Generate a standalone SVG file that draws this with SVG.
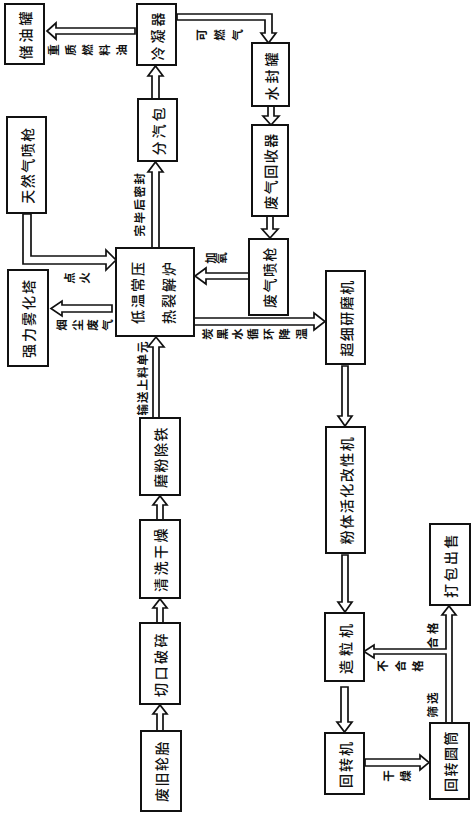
<svg xmlns="http://www.w3.org/2000/svg" width="474" height="815" viewBox="0 0 474 815">
<style>
.bx{fill:#fff;stroke:#111;stroke-width:2}
.bt{font-family:"Noto Sans CJK SC","Noto Sans CJK JP",sans-serif;font-size:14px;font-weight:500;fill:#111;text-anchor:middle;dominant-baseline:central;letter-spacing:1.5px}
.lb{font-family:"Noto Sans CJK SC","Noto Sans CJK JP",sans-serif;font-size:11.5px;font-weight:bold;fill:#111;text-anchor:middle;dominant-baseline:central}
.ar{fill:#fff;stroke:#111;stroke-width:1.7;stroke-linejoin:miter}
</style>
<rect width="474" height="815" fill="#fff"/>
<g id="connectors">
<path class="ar" d="M135,28 L56,28 L56,23 L47,31 L56,39 L56,34 L135,34 Z"/>
<path class="ar" d="M152,99 V76 H148 L155.5,66 L163,76 H159 V99 Z"/>
<path class="ar" d="M152,248 V172 H148 L155.5,162 L163,172 H159 V248 Z"/>
<path class="ar" d="M177,14 H272 V33 H276 L268.5,43 L261,33 H265 V20 H177 Z"/>
<path class="ar" d="M268,106 V116 H263 L271,125 L279,116 H274 V106 Z"/>
<path class="ar" d="M267,216 V229 H262 L270,238 L278,229 H273 V216 Z"/>
<path class="ar" d="M249,273 H206 V268 L195,276 L206,284 V279 H249 Z"/>
<path class="ar" d="M194,318 H314 V313 L325,321.5 L314,330 V325 H194 Z"/>
<path class="ar" d="M23,214 V264 H106 V270 L116,260 L106,250 V256 H31 V214 Z"/>
<path class="ar" d="M112,305 H62 V301 L51,308.5 L62,316 V312 H112 Z"/>
<path class="ar" d="M153,418 V347 H148 L156,337 L164,347 H159 V418 Z"/>
<path class="ar" d="M157,520 V505 H153 L160,496 L167,505 H163 V520 Z"/>
<path class="ar" d="M157,623 V608 H153 L160,599 L167,608 H163 V623 Z"/>
<path class="ar" d="M157,731 V714 H153 L160,705 L167,714 H163 V731 Z"/>
<path class="ar" d="M342,366 V416 H338 L345,426 L352,416 H348 V366 Z"/>
<path class="ar" d="M342,555 V602 H338 L345,612 L352,602 H348 V555 Z"/>
<path class="ar" d="M341,687 V722 H337 L344.5,732 L352,722 H348 V687 Z"/>
<path class="ar" d="M365,759 H420 V755 L429,762.5 L420,770 V766 H365 Z"/>
<path class="ar" d="M446,723 V654 H374 V658 L364,651.5 L374,645 V649 H446 V615 H442 L449,606 L456,615 H452 V723 Z"/>
</g>
<g id="labels">
<text class="lb" transform="translate(53 50) rotate(-90)">重</text>
<text class="lb" transform="translate(70 50) rotate(-90)">质</text>
<text class="lb" transform="translate(87 50) rotate(-90)">燃</text>
<text class="lb" transform="translate(104 50) rotate(-90)">料</text>
<text class="lb" transform="translate(121 50) rotate(-90)">油</text>
<text class="lb" transform="translate(201 35) rotate(-90)">可</text>
<text class="lb" transform="translate(219 35) rotate(-90)">燃</text>
<text class="lb" transform="translate(237 35) rotate(-90)">气</text>
<text class="lb" transform="translate(139 204) rotate(-90)" style="letter-spacing:1.5px">完毕后密封</text>
<text class="lb" transform="translate(210 258) rotate(-90)">加</text>
<text class="lb" transform="translate(221 258) rotate(-90)">氧</text>
<text class="lb" transform="translate(69 278) rotate(-90)">点</text>
<text class="lb" transform="translate(84 278) rotate(-90)">火</text>
<text class="lb" transform="translate(61 325) rotate(-90)">烟</text>
<text class="lb" transform="translate(77 325) rotate(-90)">尘</text>
<text class="lb" transform="translate(92 325) rotate(-90)">废</text>
<text class="lb" transform="translate(107 325) rotate(-90)">气</text>
<text class="lb" transform="translate(207 334) rotate(-90)">炭</text>
<text class="lb" transform="translate(222 334) rotate(-90)">黑</text>
<text class="lb" transform="translate(237 334) rotate(-90)">水</text>
<text class="lb" transform="translate(252 334) rotate(-90)">循</text>
<text class="lb" transform="translate(268 334) rotate(-90)">环</text>
<text class="lb" transform="translate(284 334) rotate(-90)">降</text>
<text class="lb" transform="translate(301 334) rotate(-90)">温</text>
<text class="lb" transform="translate(142 378) rotate(-90)" style="letter-spacing:1px">输送上料单元</text>
<text class="lb" transform="translate(382 666) rotate(-90)">不</text>
<text class="lb" transform="translate(400 666) rotate(-90)">合</text>
<text class="lb" transform="translate(417 666) rotate(-90)">格</text>
<text class="lb" transform="translate(432 634) rotate(-90)" style="letter-spacing:3px">合格</text>
<text class="lb" transform="translate(432 704) rotate(-90)" style="letter-spacing:2px">筛选</text>
<text class="lb" transform="translate(388 776) rotate(-90)">干</text>
<text class="lb" transform="translate(405 776) rotate(-90)">燥</text>
</g>
<g id="n-chuyouguan"><rect class="bx" x="5" y="4" width="39" height="60"/><text class="bt" transform="translate(24.5 34) rotate(-90)" style="letter-spacing:3px">储油罐</text></g>
<g id="n-lengningqi"><rect class="bx" x="137" y="4" width="39" height="61"/><text class="bt" transform="translate(156.5 35) rotate(-90)" style="letter-spacing:3px">冷凝器</text></g>
<g id="n-fenqibao"><rect class="bx" x="138" y="99" width="39" height="62"/><text class="bt" transform="translate(157.5 130) rotate(-90)" style="letter-spacing:3px">分汽包</text></g>
<g id="n-tianranqi"><rect class="bx" x="7" y="117" width="39" height="96"/><text class="bt" transform="translate(26.5 165) rotate(-90)">天然气喷枪</text></g>
<g id="n-shuifengguan"><rect class="bx" x="252" y="43" width="37" height="63"/><text class="bt" transform="translate(270.5 75) rotate(-90)" style="letter-spacing:3px">水封罐</text></g>
<g id="n-feiqihuishou"><rect class="bx" x="252" y="125" width="36" height="91"/><text class="bt" transform="translate(270 171) rotate(-90)">废气回收器</text></g>
<g id="n-feiqipenqiang"><rect class="bx" x="249" y="239" width="39" height="76"/><text class="bt" transform="translate(268.5 277) rotate(-90)">废气喷枪</text></g>
<g id="n-lu"><rect class="bx" x="116" y="248" width="78" height="88"/><text class="bt" transform="translate(137 292) rotate(-90)" style="letter-spacing:2px">低温常压</text><text class="bt" transform="translate(168 292) rotate(-90)" style="letter-spacing:2px">热裂解炉</text></g>
<g id="n-wuhuata"><rect class="bx" x="8" y="270" width="40" height="96"/><text class="bt" transform="translate(28 318) rotate(-90)" style="letter-spacing:2px">强力雾化塔</text></g>
<g id="n-yanmoji"><rect class="bx" x="326" y="271" width="39" height="93"/><text class="bt" transform="translate(345.5 318) rotate(-90)">超细研磨机</text></g>
<g id="n-mofen"><rect class="bx" x="140" y="418" width="40" height="77"/><text class="bt" transform="translate(160 457) rotate(-90)">磨粉除铁</text></g>
<g id="n-qingxi"><rect class="bx" x="140" y="520" width="40" height="78"/><text class="bt" transform="translate(160 559) rotate(-90)" style="letter-spacing:2.5px">清洗干燥</text></g>
<g id="n-qiekou"><rect class="bx" x="140" y="623" width="40" height="81"/><text class="bt" transform="translate(160 664) rotate(-90)" style="letter-spacing:2.5px">切口破碎</text></g>
<g id="n-feijiu"><rect class="bx" x="141" y="731" width="40" height="80"/><text class="bt" transform="translate(161 771) rotate(-90)">废旧轮胎</text></g>
<g id="n-fenti"><rect class="bx" x="326" y="427" width="39" height="126"/><text class="bt" transform="translate(345.5 490) rotate(-90)" style="letter-spacing:1.5px">粉体活化改性机</text></g>
<g id="n-dabao"><rect class="bx" x="430" y="524" width="40" height="81"/><text class="bt" transform="translate(450 565) rotate(-90)" style="letter-spacing:2.5px">打包出售</text></g>
<g id="n-zaoliji"><rect class="bx" x="325" y="613" width="39" height="68"/><text class="bt" transform="translate(344.5 647) rotate(-90)" style="letter-spacing:4px">造粒机</text></g>
<g id="n-huizhuanji"><rect class="bx" x="325" y="733" width="39" height="61"/><text class="bt" transform="translate(344.5 764) rotate(-90)" style="letter-spacing:2px">回转机</text></g>
<g id="n-yuantong"><rect class="bx" x="430" y="723" width="39" height="76"/><text class="bt" transform="translate(449.5 761) rotate(-90)">回转圆筒</text></g>
</svg>
